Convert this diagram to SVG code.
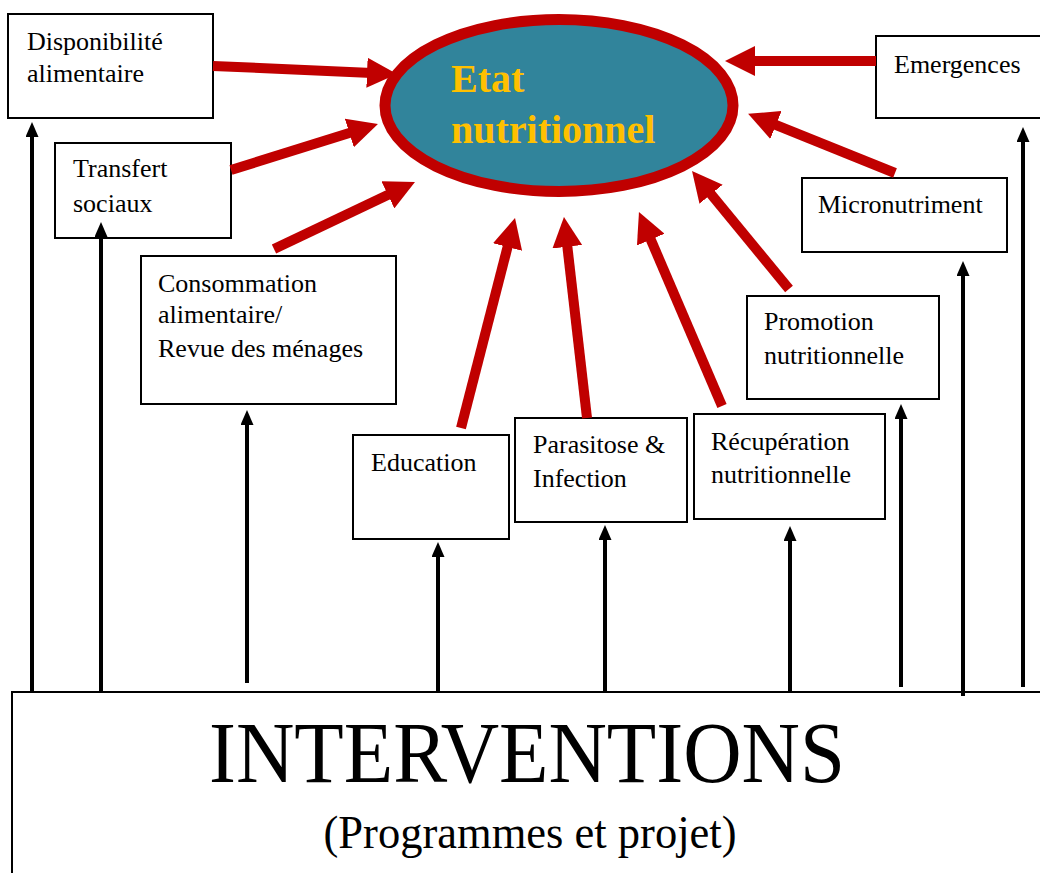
<svg xmlns="http://www.w3.org/2000/svg" width="1040" height="873" viewBox="0 0 1040 873">
<defs>
<style>
.box{fill:#fff;stroke:#000;stroke-width:2}
.lbl{font-family:"Liberation Serif","Times New Roman",serif;font-size:26px;fill:#000}
.red{stroke:#C00000;stroke-width:10;fill:none;marker-end:url(#rh)}
.blk{stroke:#000;stroke-width:4;fill:none;marker-end:url(#bh)}
</style>
<marker id="rh" viewBox="0 0 30 30" markerWidth="30" markerHeight="30" markerUnits="userSpaceOnUse" refX="5" refY="15" orient="auto">
<path d="M0,0 L30,15 L0,30 z" fill="#C00000"/>
</marker>
<marker id="bh" viewBox="0 0 15 13" markerWidth="15" markerHeight="13" markerUnits="userSpaceOnUse" refX="3" refY="6.5" orient="auto">
<path d="M0,0 L15,6.5 L0,13 z" fill="#000"/>
</marker>
</defs>
<rect width="1040" height="873" fill="#fff"/>

<g id="interventions">
<path d="M12,873 L12,692 L1040,692" fill="#fff" stroke="#000" stroke-width="2"/>
<text x="527" y="782" text-anchor="middle" textLength="636" lengthAdjust="spacingAndGlyphs" style="font-family:'Liberation Serif','Times New Roman',serif;font-size:86px">INTERVENTIONS</text>
<text x="530" y="848" text-anchor="middle" textLength="413" lengthAdjust="spacingAndGlyphs" style="font-family:'Liberation Serif','Times New Roman',serif;font-size:46px">(Programmes et projet)</text>
</g>

<g id="etat-nutritionnel">
<ellipse cx="559" cy="105.5" rx="174" ry="86" fill="#31849B" stroke="#C00000" stroke-width="11"/>
<text x="451" y="92" style="font-family:'Liberation Serif','Times New Roman',serif;font-size:40px;font-weight:bold;fill:#FFC000">Etat</text>
<text x="451" y="143" style="font-family:'Liberation Serif','Times New Roman',serif;font-size:40px;font-weight:bold;fill:#FFC000">nutritionnel</text>
</g>

<g id="disponibilite">
<rect class="box" x="8" y="14" width="205" height="104"/>
<text class="lbl" x="27" y="50">Disponibilité</text>
<text class="lbl" x="27" y="82">alimentaire</text>
</g>

<g id="transfert">
<rect class="box" x="55" y="143" width="176" height="95"/>
<text class="lbl" x="73" y="177">Transfert</text>
<text class="lbl" x="73" y="212">sociaux</text>
</g>

<g id="consommation">
<rect class="box" x="141" y="256" width="255" height="148"/>
<text class="lbl" x="158" y="292">Consommation</text>
<text class="lbl" x="158" y="323">alimentaire/</text>
<text class="lbl" x="158" y="357">Revue des ménages</text>
</g>

<g id="education">
<rect class="box" x="353" y="435" width="156" height="104"/>
<text class="lbl" x="371" y="471">Education</text>
</g>

<g id="parasitose">
<rect class="box" x="515" y="418" width="172" height="104"/>
<text class="lbl" x="533" y="453">Parasitose &amp;</text>
<text class="lbl" x="533" y="487">Infection</text>
</g>

<g id="recuperation">
<rect class="box" x="694" y="414" width="191" height="105"/>
<text class="lbl" x="711" y="450">Récupération</text>
<text class="lbl" x="711" y="483">nutritionnelle</text>
</g>

<g id="promotion">
<rect class="box" x="747" y="296" width="192" height="103"/>
<text class="lbl" x="764" y="330">Promotion</text>
<text class="lbl" x="764" y="364">nutritionnelle</text>
</g>

<g id="micronutriment">
<rect class="box" x="802" y="178" width="205" height="74"/>
<text class="lbl" x="818" y="213">Micronutriment</text>
</g>

<g id="emergences">
<rect class="box" x="876" y="36" width="180" height="82"/>
<text class="lbl" x="894" y="73">Emergences</text>
</g>

<g id="connectors">
<line class="red" x1="213" y1="66" x2="372" y2="72.9"/>
<line class="red" x1="231" y1="170" x2="354.1" y2="131.5"/>
<line class="red" x1="274" y1="249" x2="392.4" y2="192.7"/>
<line class="red" x1="461" y1="428" x2="508.8" y2="242.2"/>
<line class="red" x1="587" y1="418" x2="566.8" y2="241.8"/>
<line class="red" x1="722" y1="406" x2="648.8" y2="235"/>
<line class="red" x1="789" y1="289" x2="707.9" y2="190.3"/>
<line class="red" x1="895" y1="173" x2="771.3" y2="123.1"/>
<line class="red" x1="876" y1="61" x2="750" y2="61"/>

<line class="blk" x1="32" y1="692" x2="32" y2="134"/>
<line class="blk" x1="101" y1="692" x2="101" y2="234"/>
<line class="blk" x1="247" y1="683" x2="247" y2="422"/>
<line class="blk" x1="438" y1="692" x2="438" y2="554"/>
<line class="blk" x1="605" y1="692" x2="605" y2="537"/>
<line class="blk" x1="790" y1="692" x2="790" y2="538"/>
<line class="blk" x1="901" y1="687" x2="901" y2="416"/>
<line class="blk" x1="963" y1="696" x2="963" y2="273"/>
<line class="blk" x1="1023" y1="687" x2="1023" y2="139"/>
</g>
</svg>
